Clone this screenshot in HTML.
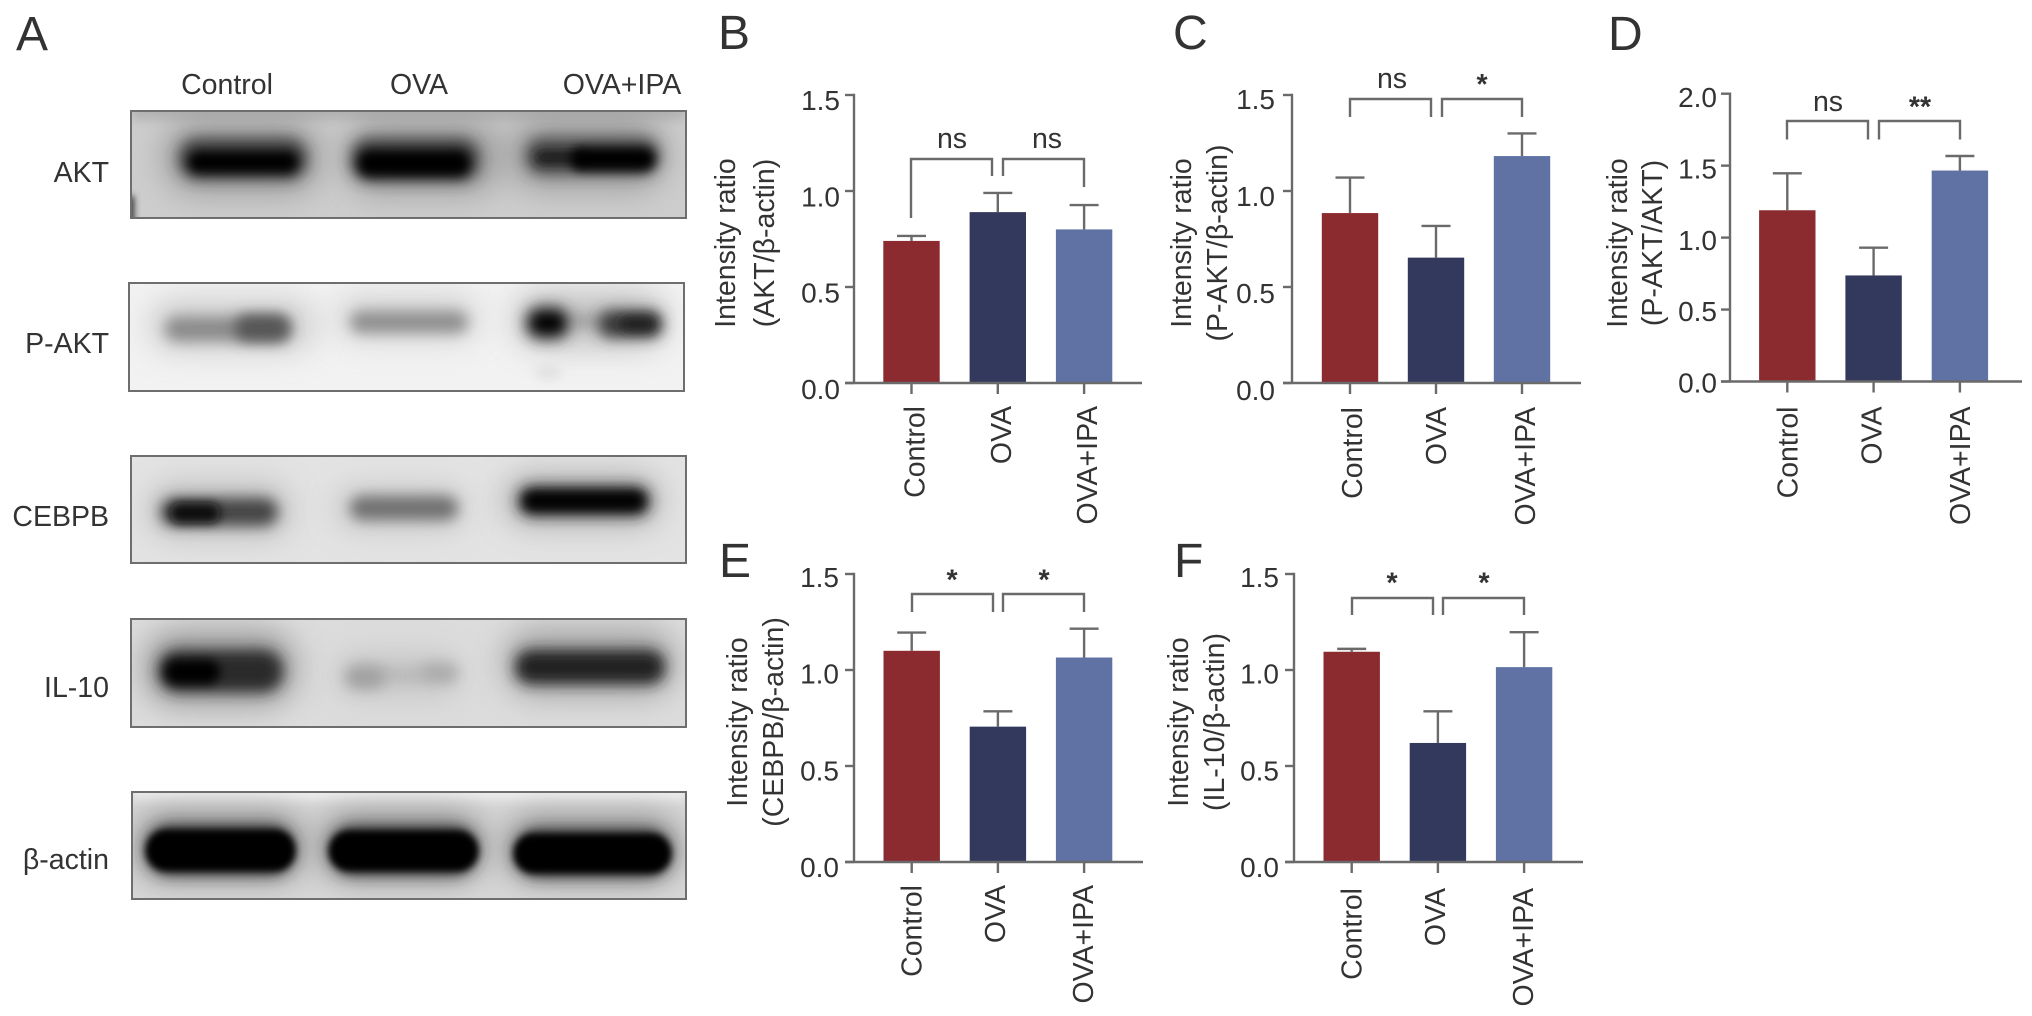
<!DOCTYPE html>
<html lang="en">
<head>
<meta charset="utf-8">
<title>Western blots and intensity ratio bar charts</title>
<style>
html,body{margin:0;padding:0;background:#fff;}
svg{display:block;}
text{font-family:"Liberation Sans",Arial,sans-serif;fill:#333;}
</style>
</head>
<body>
<svg id="figure" width="2032" height="1016" viewBox="0 0 2032 1016" xmlns="http://www.w3.org/2000/svg">
<defs>
<filter id="b3" x="-50%" y="-200%" width="200%" height="500%"><feGaussianBlur stdDeviation="3.5"/></filter>
<filter id="b5" x="-50%" y="-200%" width="200%" height="500%"><feGaussianBlur stdDeviation="5"/></filter>
<filter id="b7" x="-50%" y="-200%" width="200%" height="500%"><feGaussianBlur stdDeviation="7"/></filter>
<filter id="b18" x="-60%" y="-300%" width="220%" height="700%"><feGaussianBlur stdDeviation="16"/></filter>
<clipPath id="c-akt"><rect x="131" y="111" width="555" height="107"/></clipPath>
<clipPath id="c-pakt"><rect x="129" y="283" width="555" height="108"/></clipPath>
<clipPath id="c-cebpb"><rect x="131" y="456" width="555" height="107"/></clipPath>
<clipPath id="c-il10"><rect x="131" y="619" width="555" height="108"/></clipPath>
<clipPath id="c-actin"><rect x="132" y="792" width="554" height="107"/></clipPath>
</defs>
<rect width="2032" height="1016" fill="#fff"/>

<g>
<text x="16" y="50" font-size="48">A</text>
<text x="227" y="94" font-size="28.5" text-anchor="middle">Control</text>
<text x="419" y="94" font-size="28.5" text-anchor="middle">OVA</text>
<text x="622" y="94" font-size="28.5" text-anchor="middle">OVA+IPA</text>
<text x="109" y="182" font-size="28.5" text-anchor="end">AKT</text>
<text x="109" y="353" font-size="28.5" text-anchor="end">P-AKT</text>
<text x="109" y="526" font-size="28.5" text-anchor="end">CEBPB</text>
<text x="109" y="697" font-size="28.5" text-anchor="end">IL-10</text>
<text x="109" y="869" font-size="28.5" text-anchor="end">β-actin</text>

<g clip-path="url(#c-akt)">
<rect x="131" y="111" width="555" height="107" fill="#cdcdcd"/>
<rect x="131" y="100" width="555" height="20" fill="#b4b4b4" filter="url(#b5)"/>
<rect x="120" y="196" width="14" height="30" fill="#333" filter="url(#b3)"/>
<rect x="165" y="122" width="155" height="70" rx="30" fill="#777" opacity=".6" filter="url(#b18)"/>
<rect x="178" y="138" width="130" height="42" rx="20" fill="#333" opacity=".85" filter="url(#b7)"/>
<rect x="188" y="151" width="110" height="22" rx="11" fill="#000" filter="url(#b5)"/>
<rect x="345" y="122" width="155" height="70" rx="30" fill="#777" opacity=".6" filter="url(#b18)"/>
<rect x="350" y="138" width="130" height="44" rx="20" fill="#333" opacity=".85" filter="url(#b7)"/>
<rect x="358" y="150" width="112" height="26" rx="12" fill="#000" filter="url(#b5)"/>
<rect x="510" y="120" width="155" height="68" rx="30" fill="#777" opacity=".6" filter="url(#b18)"/>
<rect x="525" y="137" width="135" height="38" rx="18" fill="#444" opacity=".85" filter="url(#b7)"/>
<rect x="535" y="150" width="50" height="15" rx="7" fill="#1c1c1c" filter="url(#b5)"/>
<rect x="570" y="147" width="85" height="24" rx="12" fill="#000" filter="url(#b5)"/>
</g>
<rect x="131" y="111" width="555" height="107" fill="none" stroke="#6e6e6e" stroke-width="2"/>

<g clip-path="url(#c-pakt)">
<rect x="129" y="283" width="555" height="108" fill="#f2f2f2"/>
<rect x="150" y="300" width="165" height="50" rx="24" fill="#bbb" opacity=".7" filter="url(#b18)"/>
<rect x="165" y="317" width="125" height="24" rx="12" fill="#8a8a8a" filter="url(#b7)"/>
<rect x="235" y="315" width="55" height="26" rx="12" fill="#555" filter="url(#b7)"/>
<rect x="335" y="295" width="145" height="45" rx="22" fill="#c8c8c8" opacity=".7" filter="url(#b18)"/>
<rect x="350" y="311" width="118" height="22" rx="11" fill="#8f8f8f" filter="url(#b7)"/>
<rect x="515" y="292" width="150" height="55" rx="26" fill="#aaa" opacity=".7" filter="url(#b18)"/>
<rect x="568" y="316" width="35" height="10" rx="5" fill="#999" filter="url(#b7)"/>
<rect x="525" y="306" width="45" height="34" rx="16" fill="#333" filter="url(#b7)"/>
<rect x="535" y="316" width="26" height="14" rx="7" fill="#000" filter="url(#b5)"/>
<rect x="598" y="310" width="65" height="28" rx="13" fill="#3a3a3a" filter="url(#b7)"/>
<rect x="620" y="317" width="35" height="14" rx="7" fill="#222" filter="url(#b5)"/>
<ellipse cx="548" cy="372" rx="14" ry="8" fill="#e2e2e2" filter="url(#b5)"/>
</g>
<rect x="129" y="283" width="555" height="108" fill="none" stroke="#6e6e6e" stroke-width="2"/>

<g clip-path="url(#c-cebpb)">
<rect x="131" y="456" width="555" height="107" fill="#e3e3e3"/>
<rect x="150" y="485" width="140" height="50" rx="24" fill="#aaa" opacity=".7" filter="url(#b18)"/>
<rect x="160" y="498" width="118" height="28" rx="14" fill="#444" filter="url(#b7)"/>
<rect x="170" y="503" width="50" height="20" rx="10" fill="#111" filter="url(#b5)"/>
<rect x="335" y="488" width="130" height="40" rx="20" fill="#bbb" opacity=".7" filter="url(#b18)"/>
<rect x="350" y="496" width="108" height="24" rx="12" fill="#707070" filter="url(#b7)"/>
<rect x="505" y="475" width="155" height="50" rx="24" fill="#999" opacity=".7" filter="url(#b18)"/>
<rect x="518" y="486" width="132" height="30" rx="14" fill="#222" filter="url(#b7)"/>
<rect x="525" y="493" width="118" height="16" rx="8" fill="#000" filter="url(#b5)"/>
</g>
<rect x="131" y="456" width="555" height="107" fill="none" stroke="#6e6e6e" stroke-width="2"/>

<g clip-path="url(#c-il10)">
<rect x="131" y="619" width="555" height="108" fill="#dcdcdc"/>
<rect x="145" y="632" width="150" height="72" rx="32" fill="#777" opacity=".7" filter="url(#b18)"/>
<rect x="158" y="650" width="125" height="42" rx="20" fill="#2a2a2a" filter="url(#b7)"/>
<rect x="165" y="660" width="55" height="24" rx="12" fill="#000" filter="url(#b5)"/>
<rect x="335" y="655" width="125" height="40" rx="20" fill="#c0c0c0" opacity=".8" filter="url(#b18)"/>
<rect x="375" y="668" width="50" height="14" rx="7" fill="#b8b8b8" filter="url(#b7)"/>
<rect x="345" y="665" width="40" height="24" rx="12" fill="#a0a0a0" filter="url(#b7)"/>
<rect x="420" y="663" width="38" height="20" rx="10" fill="#aaa" filter="url(#b7)"/>
<rect x="505" y="630" width="170" height="65" rx="30" fill="#888" opacity=".7" filter="url(#b18)"/>
<rect x="515" y="650" width="150" height="34" rx="16" fill="#222" filter="url(#b7)"/>
</g>
<rect x="131" y="619" width="555" height="108" fill="none" stroke="#6e6e6e" stroke-width="2"/>

<g clip-path="url(#c-actin)">
<rect x="132" y="792" width="554" height="107" fill="#d8d8d8"/>
<rect x="132" y="782" width="554" height="18" fill="#eeeeee" filter="url(#b5)"/>
<rect x="135" y="812" width="170" height="68" rx="30" fill="#777" opacity=".7" filter="url(#b18)"/>
<rect x="320" y="812" width="165" height="68" rx="30" fill="#777" opacity=".7" filter="url(#b18)"/>
<rect x="505" y="815" width="175" height="66" rx="30" fill="#777" opacity=".7" filter="url(#b18)"/>
<rect x="146" y="825" width="149" height="50" rx="24" fill="#333" filter="url(#b7)"/>
<rect x="329" y="826" width="149" height="49" rx="24" fill="#333" filter="url(#b7)"/>
<rect x="514" y="829" width="157" height="48" rx="24" fill="#333" filter="url(#b7)"/>
<rect x="146" y="830" width="149" height="41" rx="20" fill="#000" filter="url(#b3)"/>
<rect x="329" y="831" width="149" height="40" rx="20" fill="#000" filter="url(#b3)"/>
<rect x="514" y="834" width="157" height="39" rx="19" fill="#000" filter="url(#b3)"/>
</g>
<rect x="132" y="792" width="554" height="107" fill="none" stroke="#6e6e6e" stroke-width="2"/>
</g>

<g id="charts"></g>
</svg>

<script>
// Shared labels
const categories = ['Control', 'OVA', 'OVA+IPA'];
const ticks15 = [0, 0.5, 1.0, 1.5];
const ticks20 = [0, 0.5, 1.0, 1.5, 2.0];

// Panel data: bar means, top of error bar, significance labels
const meansB = [0.74, 0.89, 0.80];
const errTopB = [0.766, 0.99, 0.927];
const sigB = ['ns', 'ns'];
const meansC = [0.885, 0.653, 1.182];
const errTopC = [1.07, 0.818, 1.30];
const sigC = ['ns', '*'];
const meansD = [1.19, 0.737, 1.466];
const errTopD = [1.447, 0.93, 1.567];
const sigD = ['ns', '**'];
const meansE = [1.10, 0.705, 1.065];
const errTopE = [1.195, 0.785, 1.215];
const sigE = ['*', '*'];
const meansF = [1.095, 0.62, 1.015];
const errTopF = [1.11, 0.785, 1.197];
const sigF = ['*', '*'];

const barColors = ['#8b2a2f', '#33395c', '#5f72a3'];
const AXIS = '#6a6a6a';
const NS = 'http://www.w3.org/2000/svg';
const root = document.getElementById('charts');

function make(tag, attrs, parent, txt) {
  const el = document.createElementNS(NS, tag);
  for (const k in attrs) el.setAttribute(k, attrs[k]);
  if (txt !== undefined) el.textContent = txt;
  parent.appendChild(el);
  return el;
}
function line(x1, y1, x2, y2, parent) {
  return make('line', {x1, y1, x2, y2, stroke: AXIS, 'stroke-width': 2.4}, parent);
}

function drawPanel(p) {
  const g = make('g', {}, root);
  
  

  const maxTick = p.ticks[p.ticks.length - 1];
  const yScale = v => p.y0 - (v / maxTick) * (p.y0 - p.yTop);
  const xScale = i => p.cx0 + i * p.step;

  const letter = make('text', {x: p.letterX, y: p.letterY, 'font-size': 48}, g, p.id.toUpperCase());
  
  

  // Bars
  p.means.forEach((v, i) => {
    const top = yScale(v);
    const bar = make('rect', {x: xScale(i) - 28.2, y: top, width: 56.4, height: p.y0 - top, fill: barColors[i]}, g);
    
    
  });

  // Error bars
  p.errTop.forEach((v, i) => {
    const eg = make('g', {}, g);
    
    
    line(xScale(i), yScale(p.means[i]), xScale(i), yScale(v), eg);
    line(xScale(i) - 14.5, yScale(v), xScale(i) + 14.5, yScale(v), eg);
  });

  // Y axis
  const yAxis = line(p.axisX, p.yTop - 1.2, p.axisX, p.y0, g);
  
  
  p.ticks.forEach(t => {
    const y = yScale(t);
    const tk = line(p.axisX - 9, y, p.axisX, y, g);
    
    
    const dy = p.tickDy0 + (p.tickDy1 - p.tickDy0) * t / maxTick;
    const lab = make('text', {x: p.tickRight, y: y + dy, 'font-size': 28, 'text-anchor': 'end'}, g, t.toFixed(1));
    
    
  });

  // X axis
  const xAxis = line(p.axisX - 9, p.y0, p.xEnd, p.y0, g);
  
  
  categories.forEach((c, i) => {
    const tk = line(xScale(i), p.y0, xScale(i), p.y0 + 11, g);
    
    
    const bx = xScale(i) + p.labelDx[i];
    const by = p.y0 + p.labelDy;
    const lab = make('text', {x: 0, y: 0, 'font-size': 28.5, 'text-anchor': 'end', transform: 'translate(' + bx + ',' + by + ') rotate(-90)'}, g, c);
    
    
  });

  // Y title
  p.title.forEach((s, i) => {
    const t = make('text', {x: 0, y: 0, 'font-size': 28.5, 'text-anchor': 'middle', transform: 'translate(' + p.titleX[i] + ',' + p.titleY + ') rotate(-90)'}, g, s);
    
    
  });

  // Significance brackets
  p.sig.forEach((s, i) => {
    const b = p.br[i];
    const path = make('path', {d: 'M' + b[0] + ' ' + b[2] + 'V' + p.brTop + 'H' + b[1] + 'V' + b[3], fill: 'none', stroke: AXIS, 'stroke-width': 2.4}, g);
    
    
    const star = s.indexOf('*') >= 0;
    const lab = make('text', {x: p.sigX[i], y: star ? p.starY : p.nsY, 'font-size': 28.5, 'text-anchor': 'middle', 'font-weight': star ? 'bold' : 'normal'}, g, s);
    
    
  });
}

drawPanel({id: 'b', means: meansB, errTop: errTopB, sig: sigB, ticks: ticks15,
  axisX: 854, yTop: 95, y0: 383, xEnd: 1142, cx0: 911.5, step: 86.3,
  tickRight: 840, tickDy0: 16, tickDy1: 15, labelDx: [13, 13, 13], labelDy: 23,
  title: ['Intensity ratio', '(AKT/β-actin)'], titleX: [735, 774], titleY: 243,
  letterX: 718, letterY: 49,
  br: [[911, 992, 218, 176], [1003, 1084, 176, 187]], brTop: 159,
  sigX: [952, 1047], nsY: 148, starY: 157});

drawPanel({id: 'c', means: meansC, errTop: errTopC, sig: sigC, ticks: ticks15,
  axisX: 1292, yTop: 95, y0: 383, xEnd: 1581, cx0: 1350, step: 86,
  tickRight: 1275, tickDy0: 17, tickDy1: 14, labelDx: [12, 10, 13], labelDy: 24,
  title: ['Intensity ratio', '(P-AKT/β-actin)'], titleX: [1191, 1227], titleY: 243,
  letterX: 1173, letterY: 49,
  br: [[1350, 1431, 117, 117], [1442, 1522, 117, 117]], brTop: 99,
  sigX: [1392, 1482], nsY: 88, starY: 94});

drawPanel({id: 'd', means: meansD, errTop: errTopD, sig: sigD, ticks: ticks20,
  axisX: 1730, yTop: 93.7, y0: 381.5, xEnd: 2022, cx0: 1787.3, step: 86.3,
  tickRight: 1717, tickDy0: 11, tickDy1: 13.5, labelDx: [10, 8, 10], labelDy: 25,
  title: ['Intensity ratio', '(P-AKT/AKT)'], titleX: [1627, 1662], titleY: 243,
  letterX: 1608, letterY: 50,
  br: [[1787, 1868, 139.5, 139.5], [1879, 1960, 139.5, 139.5]], brTop: 121,
  sigX: [1828, 1920], nsY: 111, starY: 116.5});

drawPanel({id: 'e', means: meansE, errTop: errTopE, sig: sigE, ticks: ticks15,
  axisX: 854, yTop: 574, y0: 862, xEnd: 1143, cx0: 911.7, step: 86.2,
  tickRight: 839, tickDy0: 15, tickDy1: 13, labelDx: [10, 7, 9], labelDy: 23,
  title: ['Intensity ratio', '(CEBPB/β-actin)'], titleX: [747, 783], titleY: 722,
  letterX: 719, letterY: 577,
  br: [[912, 993, 612, 612], [1003, 1084, 612, 612]], brTop: 594,
  sigX: [952, 1044], nsY: 587, starY: 589.5});

drawPanel({id: 'f', means: meansF, errTop: errTopF, sig: sigF, ticks: ticks15,
  axisX: 1294, yTop: 574, y0: 862, xEnd: 1583, cx0: 1351.7, step: 86.2,
  tickRight: 1279, tickDy0: 15, tickDy1: 13, labelDx: [10, 7, 9], labelDy: 26,
  title: ['Intensity ratio', '(IL-10/β-actin)'], titleX: [1188, 1224], titleY: 722,
  letterX: 1174, letterY: 577,
  br: [[1352, 1433, 615, 615], [1443, 1524, 615, 615]], brTop: 598,
  sigX: [1392, 1484], nsY: 590, starY: 592.5});
</script>
</body>
</html>
